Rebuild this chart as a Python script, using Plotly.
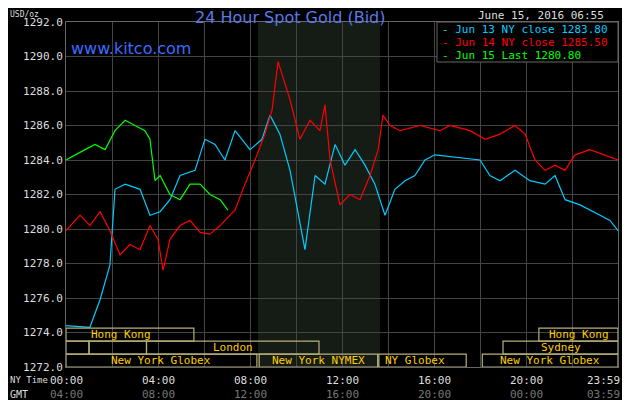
import plotly.graph_objects as go

# hours (NY time) and prices
jun13_t = [0,1.04,1.48,1.91,2.13,2.57,3.22,3.65,4.09,4.52,4.96,5.61,6.04,6.48,6.91,7.35,8.0,8.52,8.87,9.30,9.74,10.09,10.39,10.83,11.26,11.70,12.13,12.57,13.0,13.43,13.87,14.30,14.74,15.17,15.61,16.04,18.0,18.43,18.87,19.52,20.17,20.83,21.26,21.70,22.35,23.22,23.65,24]
jun13_p = [1274.4,1274.3,1275.9,1277.9,1282.3,1282.6,1282.3,1280.8,1281.0,1281.7,1283.1,1283.4,1285.2,1284.9,1284.0,1285.7,1284.6,1285.2,1286.6,1285.5,1283.4,1280.8,1278.8,1283.1,1282.6,1284.9,1283.7,1284.6,1283.7,1282.6,1280.8,1282.3,1282.8,1283.1,1284.0,1284.3,1284.0,1283.1,1282.8,1283.4,1282.8,1282.6,1283.1,1281.7,1281.4,1280.8,1280.5,1279.9]
jun14_t = [0,0.61,1.04,1.48,1.91,2.35,2.78,3.22,3.65,4.0,4.22,4.52,4.96,5.39,5.83,6.26,6.70,7.35,7.78,8.22,8.65,8.96,9.22,9.52,9.74,10.17,10.61,11.04,11.26,11.48,11.91,12.35,12.78,13.22,13.57,13.78,14.09,14.52,15.39,16.26,16.70,17.57,18.22,18.87,19.52,19.96,20.39,20.83,21.26,21.70,22.13,22.78,23.43,24]
jun14_p = [1279.9,1280.8,1280.2,1281.0,1279.9,1278.5,1279.1,1278.8,1280.2,1279.4,1277.6,1279.4,1280.2,1280.5,1279.8,1279.7,1280.2,1281.1,1282.6,1284.0,1285.5,1286.9,1289.7,1288.4,1287.5,1285.2,1286.3,1285.7,1287.2,1284.0,1281.4,1282.0,1281.7,1283.1,1284.6,1286.6,1286.0,1285.7,1286.0,1285.7,1286.0,1285.7,1285.2,1285.5,1286.0,1285.5,1284.0,1283.4,1283.7,1283.4,1284.3,1284.6,1284.3,1284.0]
jun15_t = [0,0.39,0.83,1.26,1.70,2.13,2.57,3.0,3.43,3.65,3.87,4.09,4.52,4.96,5.39,5.83,6.26,6.70,7.04]
jun15_p = [1284.0,1284.3,1284.6,1284.9,1284.6,1285.7,1286.3,1286.0,1285.7,1285.2,1282.8,1283.1,1282.0,1281.7,1282.6,1282.6,1282.0,1281.7,1281.1]

y_ticks = [1272,1274,1276,1278,1280,1282,1284,1286,1288,1290,1292]
ny_labels = ["00:00","04:00","08:00","12:00","16:00","20:00","23:59"]
gmt_labels = ["04:00","08:00","12:00","16:00","20:00","00:00","03:59"]
label_pos = [0,4,8,12,16,20,24]
# sessions: (start, end, row, label, label_x)
sessions = [(0,5.56,0,"Hong Kong",1.0),(20.56,24,0,"Hong Kong",20.9),
            (0,1,1,"",None),(1,3.5,1,"",None),(3.5,11,1,"London",None),(19,24,1,"Sydney",None),
            (0,8.3,2,"New York Globex",None),(8.4,13.55,2,"New York NYMEX",None),
            (13.6,17.4,2,"NY Globex",13.8),(18.1,24,2,"New York Globex",None)]

mono = "DejaVu Sans Mono"
fig = go.Figure()
fig.add_vrect(x0=8.35, x1=13.65, fillcolor="#151c15", line_width=0, layer="below")
for t, p, c in [(jun13_t, jun13_p, "#00ccff"), (jun14_t, jun14_p, "#ff0000"), (jun15_t, jun15_p, "#00ff00")]:
    fig.add_trace(go.Scatter(x=t, y=p, mode="lines", line=dict(color=c, width=1.2), showlegend=False))

row_h = 0.75
top = 1274.25
for s, e, r, lab, lx in sessions:
    y1 = top - r*row_h
    y0 = y1 - row_h
    fig.add_shape(type="rect", x0=s, x1=e, y0=y0, y1=y1, line=dict(color="#b8b078", width=1.2))
    if lab:
        fig.add_annotation(x=(s+e)/2 if lx is None else lx, xanchor="center" if lx is None else "left",
                           y=(y0+y1)/2, text=lab, showarrow=False,
                           font=dict(family=mono, size=11, color="#ffcc00"))

for pos, a, b in zip(label_pos, ny_labels, gmt_labels):
    last = pos == 24
    fig.add_annotation(x=pos, y=0, yref="paper", text=a, showarrow=False, yanchor="middle", yshift=-13,
                       xanchor="right" if last else "center", xshift=4 if last else 0,
                       font=dict(family=mono, size=11, color="#dddddd"))
    fig.add_annotation(x=pos, y=0, yref="paper", text=b, showarrow=False, yanchor="middle", yshift=-27,
                       xanchor="right" if last else "center", xshift=4 if last else 0,
                       font=dict(family=mono, size=11, color="#777777"))
fig.add_annotation(x=0, y=0, xref="paper", yref="paper", xanchor="left", yanchor="middle", xshift=-58, yshift=-13,
                   text="NY Time", showarrow=False, font=dict(family=mono, size=9, color="#dddddd"))
fig.add_annotation(x=0, y=0, xref="paper", yref="paper", xanchor="right", yanchor="middle", xshift=-36, yshift=-27,
                   text="GMT", showarrow=False, font=dict(family=mono, size=10, color="#dddddd"))

fig.add_annotation(x=(290-66)/552, y=1, xref="paper", yref="paper", text="24 Hour Spot Gold (Bid)", yshift=5,
                   yanchor="middle", showarrow=False, font=dict(family="DejaVu Sans", size=16, color="#5a7ae6"))
fig.add_annotation(x=0.0, y=1, xref="paper", yref="paper", text="USD/oz", xanchor="left", xshift=-58, yshift=14,
                   yanchor="top", showarrow=False, font=dict(family=mono, size=8, color="#dddddd"))
fig.add_annotation(x=0.005, y=1, xref="paper", yref="paper", text="www.kitco.com", xanchor="left", yshift=-26,
                   yanchor="middle", showarrow=False, font=dict(family="DejaVu Sans", size=16, color="#3b6cff"))
fig.add_annotation(x=1, y=1, xref="paper", yref="paper", xanchor="right", yanchor="middle", xshift=-12, yshift=7,
                   text="June 15, 2016 06:55", showarrow=False, font=dict(family=mono, size=11, color="#dddddd"))
fig.add_shape(type="rect", xref="paper", yref="paper", x0=(437-66)/552, x1=1, y0=1-40/345, y1=1,
              fillcolor="black", line=dict(color="#666666", width=1))
for i, (txt, c) in enumerate([("- Jun 13 NY close 1283.80", "#00ccff"), ("- Jun 14 NY close 1285.50", "#ff0000"),
                              ("- Jun 15 Last 1280.80", "#00ff00")]):
    fig.add_annotation(x=(440-66)/552, y=1, xref="paper", yref="paper", xanchor="left", yanchor="middle",
                       yshift=-(7+13*i), text=txt, showarrow=False, font=dict(family=mono, size=11, color=c))

fig.update_layout(width=622, height=392, margin=dict(l=58, r=12, t=14, b=33, autoexpand=False),
                  paper_bgcolor="black", plot_bgcolor="black", showlegend=False)
fig.update_xaxes(range=[0, 24], dtick=2, showticklabels=False, gridcolor="#444444", zeroline=False,
                 showline=True, linecolor="#666666", mirror=True, automargin=False)
fig.update_yaxes(range=[1272, 1292], tickvals=y_ticks, ticktext=[f"{v:.1f}" for v in y_ticks],
                 gridcolor="#444444", zeroline=False, showline=True, linecolor="#666666", mirror=True,
                 automargin=False, tickfont=dict(family=mono, size=11, color="#dddddd"))
fig.write_html("out.html")
